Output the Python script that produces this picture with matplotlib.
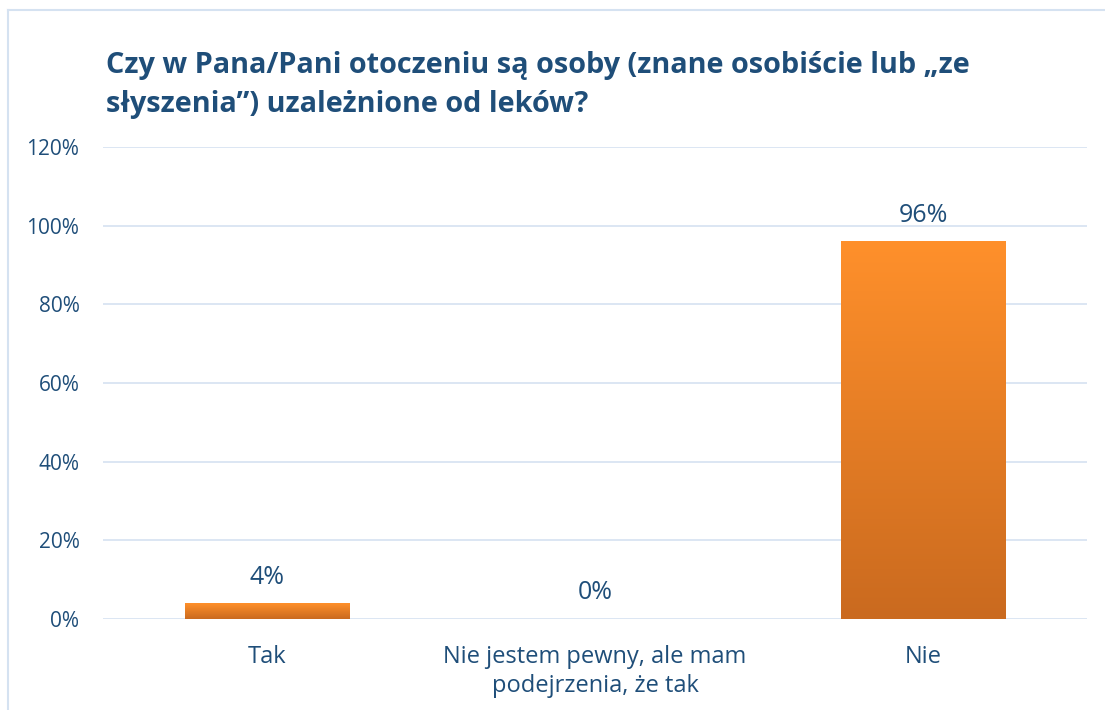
import matplotlib.pyplot as plt
import numpy as np
from matplotlib.colors import LinearSegmentedColormap
from matplotlib.lines import Line2D

categories = ["Tak", "Nie jestem pewny, ale mam\npodejrzenia, że tak", "Nie"]
values = [4, 0, 96]
yticks = [0, 20, 40, 60, 80, 100, 120]

title = "Czy w Pana/Pani otoczeniu są osoby (znane osobiście lub „ze\nsłyszenia”) uzależnione od leków?"

blue = "#1F4E79"
grid_col = "#D5E2F1"

plt.rcParams['font.family'] = ['Open Sans', 'DejaVu Sans']

fig = plt.figure(figsize=(11.05, 7.10), dpi=100)
ax = fig.add_axes([103 / 1105, 1 - 619 / 710, (1087 - 103) / 1105, (619 - 147) / 710])

x = np.arange(len(categories))
bars = ax.bar(x, values, width=0.503, color="none", zorder=3)

# gradient fill for each bar
cmap = LinearSegmentedColormap.from_list("orange", ["#CA6A1F", "#FF902B"])
grad = np.linspace(0, 1, 256).reshape(-1, 1)
for b, v in zip(bars, values):
    if v <= 0:
        continue
    x0 = b.get_x()
    w = b.get_width()
    im = ax.imshow(grad, cmap=cmap, origin="lower", aspect="auto",
                   extent=[x0, x0 + w, 0, v], zorder=3)
    im.set_clip_path(b)
    # soft shadow below the bar
    ax.bar(b.get_x() + w / 2 + 0.004, 0.6, width=w, bottom=-0.6,
           color="#B8B8B8", alpha=0.7, zorder=2)

for xi, v in zip(x, values):
    ax.text(xi, v + 5, f"{v}%", ha="center", va="baseline",
            fontsize=18, color=blue)

ax.set_xlim(-0.5, 2.5)
ax.set_ylim(0, 120)
ax.set_yticks(yticks)
ax.set_yticklabels([f"{t}%" for t in yticks])
ax.set_xticks(x)
ax.set_xticklabels(categories, linespacing=1.32)
ax.tick_params(axis="both", length=0, colors=blue)
ax.tick_params(axis="y", pad=17, labelsize=15)
ax.tick_params(axis="x", pad=18.5, labelsize=17)
ax.yaxis.grid(True, color=grid_col, linewidth=1.2, zorder=0)
ax.set_axisbelow(True)
for s in ax.spines.values():
    s.set_visible(False)

fig.text(106 / 1105, 1 - 51 / 710, title, ha="left", va="top",
         fontsize=20.8, fontweight="bold", color=blue, linespacing=1.45)

# outer chart border (top and left edges visible)
fig.add_artist(Line2D([8 / 1105, 1], [1 - 10 / 710, 1 - 10 / 710],
                      transform=fig.transFigure, color=grid_col, linewidth=1.5))
fig.add_artist(Line2D([8 / 1105, 8 / 1105], [0, 1 - 10 / 710],
                      transform=fig.transFigure, color=grid_col, linewidth=1.5))

fig.savefig("out.png", dpi=100)
